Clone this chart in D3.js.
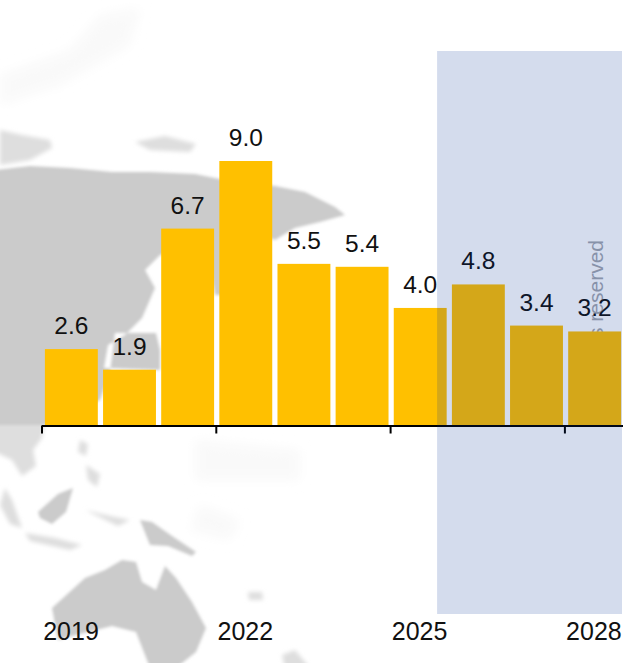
<!DOCTYPE html>
<html>
<head>
<meta charset="utf-8">
<script src="https://cdn.jsdelivr.net/npm/d3@7/dist/d3.min.js"></script>
<style>
html,body{margin:0;padding:0;background:#fff;overflow:hidden}
svg{display:block}
text{font-family:"Liberation Sans",Arial,sans-serif}
</style>
</head>
<body>
<svg id="chart" width="623" height="663"></svg>
<script>
const years = [2019,2020,2021,2022,2023,2024,2025,2026,2027,2028];
const growth = [2.6,1.9,6.7,9.0,5.5,5.4,4.0,4.8,3.4,3.2];
const tickYears = [2019,2022,2025,2028];
const forecastFromYear = 2025.8;

// Decorative backdrop: a rough map of Asia-Pacific
const mapSolid = [
  [[-5,170],[30,166],[70,168],[112,172],[150,172],[195,174],[225,180],[275,186],[305,192],[335,207],[345,215],[320,222],[295,228],[275,240],[255,232],[230,295],[215,295],[205,240],[160,255],[145,270],[155,288],[142,318],[125,335],[108,345],[104,368],[160,370],[160,350],[156,333],[115,333],[110,372],[100,400],[60,420],[45,425],[-5,425]],
  [[38,512],[58,494],[73,488],[66,512],[52,524],[40,518]],
  [[140,520],[152,522],[172,536],[196,552],[192,556],[168,546],[150,545]],
  [[52,608],[85,578],[105,570],[122,560],[136,562],[142,582],[156,590],[165,566],[176,578],[192,602],[206,628],[196,652],[176,668],[150,668],[136,632],[112,626],[72,636],[58,640]]
];
const mapPale = [
  [[-5,420],[45,418],[42,438],[33,450],[36,466],[22,476],[12,460],[-5,452]],
  [[0,130],[22,135],[50,140],[52,148],[30,160],[0,165]],
  [[135,142],[165,136],[196,144],[190,152],[150,150]],
  [[5,488],[12,500],[22,528],[10,524],[0,505]],
  [[25,533],[55,538],[82,545],[70,550],[30,541]],
  [[80,440],[88,444],[86,456],[78,452]],
  [[86,465],[100,474],[97,487],[88,480]],
  [[85,510],[110,516],[130,520],[118,526]],
  [[248,592],[262,592],[263,600],[249,600]],
  [[282,655],[295,650],[310,668],[285,668]]
];
const mapFaint = [
  [[0,75],[70,50],[100,15],[140,8],[130,45],[60,85],[30,95],[0,105]],
  [[195,440],[300,450],[300,480],[195,480]],
  [[200,505],[240,520],[230,540],[190,530]]
];

const baseY = 425.5, topY = 161;
const x = d3.scaleBand().domain(years).range([42,624]).paddingInner(0.09).paddingOuter(0.05);
const y = d3.scaleLinear().domain([0,9]).range([baseY,topY]);
const t = d3.scaleLinear().domain([2019,2029]).range([42,623]);

const svg = d3.select("#chart");
const defs = svg.append("defs");
defs.append("filter").attr("id","soft").append("feGaussianBlur").attr("stdDeviation",1.6);
defs.append("filter").attr("id","softpale").append("feGaussianBlur").attr("stdDeviation",2.2);
defs.append("filter").attr("id","softer").append("feGaussianBlur").attr("stdDeviation",6);

const line = d3.line().curve(d3.curveLinearClosed);
const map = svg.append("g");
map.append("g").attr("filter","url(#softer)").selectAll("path").data(mapFaint).join("path")
  .attr("d",line).attr("fill","#f9f9f9");
map.append("g").attr("filter","url(#softpale)").selectAll("path").data(mapPale).join("path")
  .attr("d",line).attr("fill","#dedede");
map.append("g").attr("filter","url(#soft)").selectAll("path").data(mapSolid).join("path")
  .attr("d",line).attr("fill","#cbcbcb").attr("fill-rule","evenodd");

// watermark, mostly hidden behind the last bar
svg.append("text")
  .attr("transform","translate(602.5,240) rotate(-90)")
  .attr("text-anchor","end")
  .attr("font-size",21)
  .attr("fill","#a3a6ae")
  .text("All rights reserved");

svg.append("g").selectAll("rect").data(years).join("rect")
  .attr("x",d=>x(d))
  .attr("width",x.bandwidth())
  .attr("y",(d,i)=>y(growth[i]))
  .attr("height",(d,i)=>baseY-y(growth[i]))
  .attr("fill","#FFC000");

svg.append("g").selectAll("text").data(years).join("text")
  .attr("x",d=>x(d)+x.bandwidth()/2)
  .attr("y",(d,i)=>y(growth[i])-15)
  .attr("text-anchor","middle")
  .attr("font-size",24.5)
  .attr("fill","#111")
  .text((d,i)=>growth[i].toFixed(1));

const axis = d3.axisBottom(t).tickValues(tickYears).tickFormat(d3.format("d")).tickSizeInner(8).tickSizeOuter(0);
const ax = svg.append("g").attr("transform",`translate(-0.5,${baseY})`).call(axis);
ax.select(".domain").attr("stroke","#000").attr("stroke-width",2);
ax.selectAll(".tick line").attr("stroke","#000").attr("stroke-width",2);
ax.selectAll(".tick text")
  .attr("font-size",25)
  .attr("font-family",'"Liberation Sans",Arial,sans-serif')
  .attr("fill","#111")
  .attr("text-anchor","middle")
  .attr("x",29)
  .attr("y",214.5)
  .attr("dy",0);

// forecast shading on top of everything
svg.append("rect")
  .attr("x",t(forecastFromYear))
  .attr("y",51)
  .attr("width",622-t(forecastFromYear))
  .attr("height",563)
  .attr("fill","#002D96")
  .attr("fill-opacity",0.17);
</script>
</body>
</html>
